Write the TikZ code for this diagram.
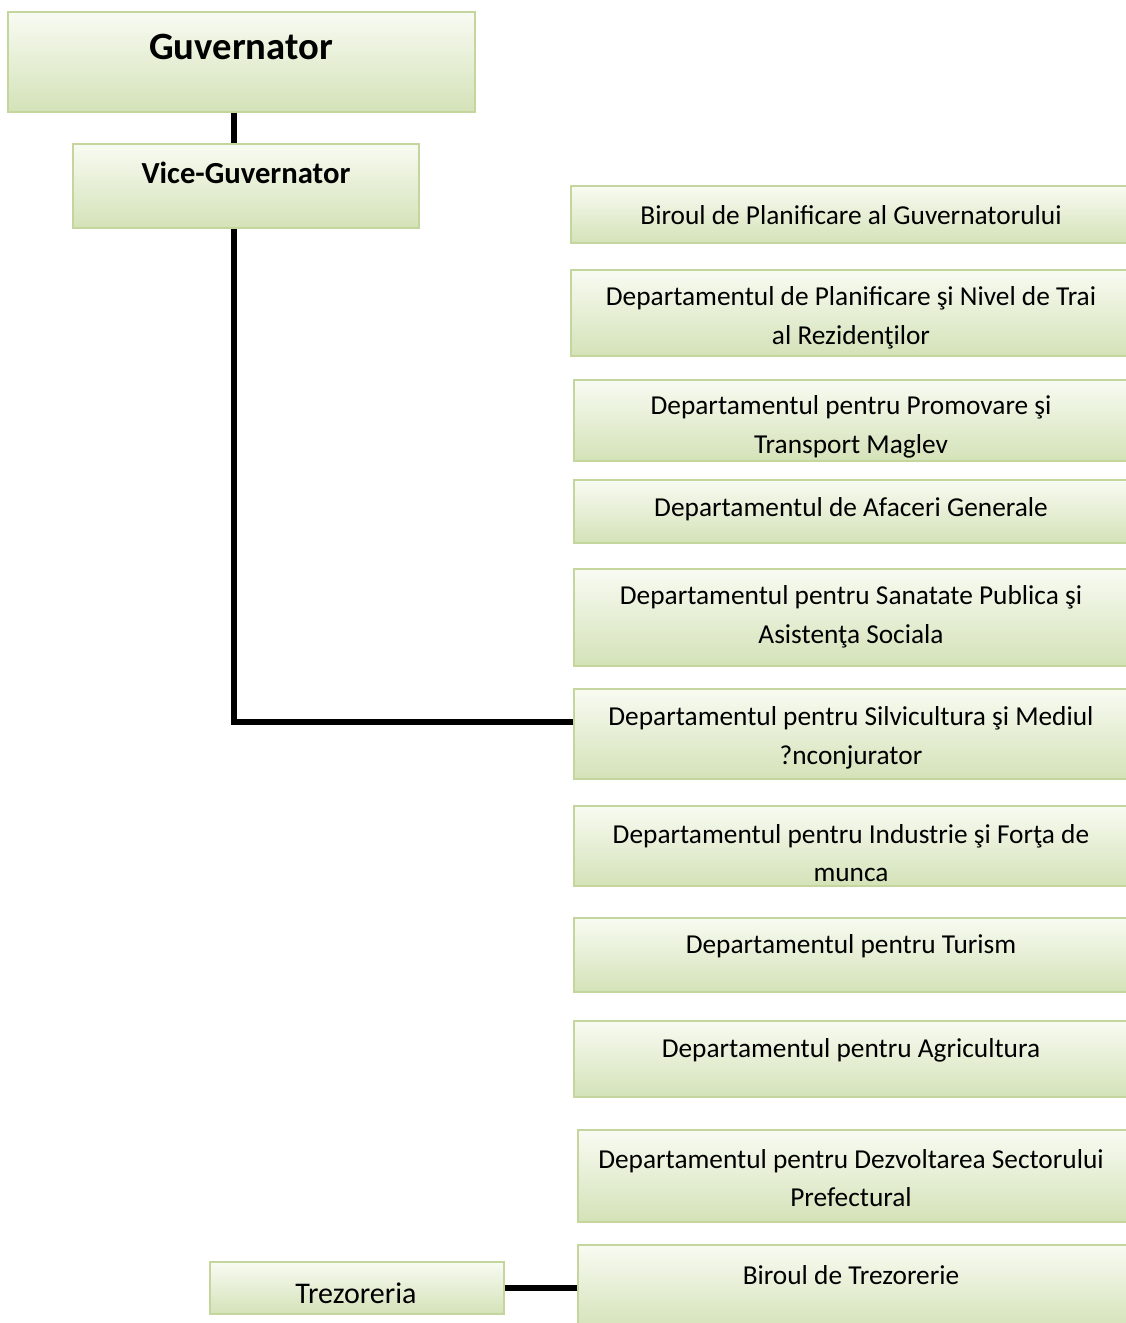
\documentclass[tikz,border=0pt]{standalone}
\usepackage{fontspec}
\setmainfont{Carlito}
\usetikzlibrary{fit}
\definecolor{boxtop}{RGB}{248,251,242}
\definecolor{boxbot}{RGB}{212,226,184}
\definecolor{boxline}{RGB}{196,214,158}

\begin{document}
\begin{tikzpicture}[x=0.75pt, y=-0.75pt,
  box/.style={draw=boxline, line width=1.3pt, top color=boxtop, bottom color=boxbot, inner sep=0pt},
  txt/.style={align=center, font=\fontsize{20.5}{29}\selectfont},
  link/.style={line width=3.8pt}]
  \useasboundingbox (0,0) rectangle (1126,1323);
  \clip (0,0) rectangle (1126,1323);
  % left column
  \node[box, fit={(8,12) (475,112)}] (gov) {};
  \node[font=\fontsize{29}{34}\selectfont\bfseries] (govt) at (241,47) {Guvernator};
  \node[box, fit={(73,144) (419,228)}] (vice) {};
  \node[font=\fontsize{23}{26}\selectfont\bfseries] (vicet) at (246,173) {Vice-Guvernator};
  \node[box, fit={(210,1262) (504,1314)}] (trez) {};
  \node[font=\fontsize{22.5}{26}\selectfont] (trezt) at (356,1293) {Trezoreria};
  % departments
  \foreach \i/\yt/\yb/\xl/\ty/\txt in {
    1/186/243/571/215/{Biroul de Planificare al Guvernatorului},
    2/270/356/571/318/{Departamentul de Planificare şi Nivel de Trai\\al Rezidenţilor},
    3/380/461/574/427/{Departamentul pentru Promovare şi\\Transport Maglev},
    4/480/543/574/509/{Departamentul de Afaceri Generale},
    5/569/666/574/617/{Departamentul pentru Sanatate Publica şi\\Asistenţa Sociala},
    6/689/779/574/738/{Departamentul pentru Silvicultura şi Mediul\\?nconjurator},
    7/806/886/574/853/{Departamentul pentru Industrie şi Forţa de\\munca},
    8/918/992/574/946/{Departamentul pentru Turism},
    9/1021/1097/574/1050/{Departamentul pentru Agricultura},
    10/1130/1222/578/1178/{Departamentul pentru Dezvoltarea Sectorului\\Prefectural},
    11/1245/1330/578/1275/{Biroul de Trezorerie}} {
    \node[box, fit={(\xl,\yt) (1130,\yb)}] (d\i) {};
    \node[txt] (t\i) at (851,\ty) {\txt};
  }
  % connectors
  \coordinate (spine) at (234,722);
  \draw[link] (gov.south -| spine) -- (vice.north -| spine);
  \draw[link] (vice.south -| spine) -- (spine) -- (spine -| d6.west);
  \draw[link] (trez.east) -- (trez.east -| d11.west);
\end{tikzpicture}
\end{document}
